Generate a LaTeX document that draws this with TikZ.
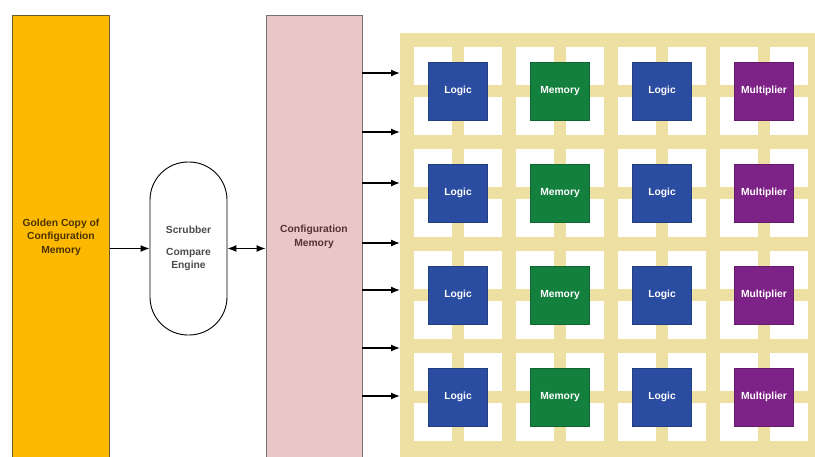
\documentclass[tikz,border=0pt]{standalone}
\usepackage{fontspec}
\setmainfont{Liberation Sans}
\usetikzlibrary{arrows.meta}
\definecolor{gold}{HTML}{FDB900}
\definecolor{goldline}{HTML}{6B5A2E}
\definecolor{goldtext}{HTML}{4A3300}
\definecolor{cfgpink}{HTML}{E9C7C7}
\definecolor{cfgline}{HTML}{7A7070}
\definecolor{cfgtext}{HTML}{553333}
\definecolor{tanc}{HTML}{EEDFA3}
\definecolor{logicblue}{HTML}{2B4DA1}
\definecolor{memgreen}{HTML}{13803D}
\definecolor{mulpurple}{HTML}{7D2286}
\begin{document}
\begin{tikzpicture}[x=1pt,y=-1pt,
  lbl/.style={font=\fontsize{10.3}{13.5}\selectfont\bfseries, align=center},
  tallbox/.style={minimum width=97pt, minimum height=444pt, inner sep=0pt, line width=0.8pt},
  blk/.style={minimum width=59pt, minimum height=58pt, inner sep=0pt, text=white,
    font=\fontsize{10.3}{12}\selectfont\bfseries},
  arr/.style={line width=1.3pt, -{Latex[length=9pt,width=7pt]}},
  darr/.style={line width=1.3pt, {Latex[length=9pt,width=7pt]}-{Latex[length=9pt,width=7pt]}}
]
\useasboundingbox (0,0) rectangle (815,456);
\clip (0,0) rectangle (815,456);
\fill[white] (0,0) rectangle (815,456);

% golden copy
\node[tallbox, lbl, draw=goldline, fill=gold, text=goldtext] (golden) at (61,237)
  {Golden Copy of\\Configuration\\Memory};

% scrubber
\node[draw, line width=0.9pt, rounded corners=38pt, minimum width=77pt, minimum height=173pt,
  inner sep=0pt, lbl, text=black!70] (scrub) at (188.5,248.5)
  {Scrubber\\[8pt]Compare\\Engine};

% configuration memory
\node[tallbox, lbl, draw=cfgline, fill=cfgpink, text=cfgtext, minimum width=96pt] (config) at (314,237)
  {Configuration\\Memory};

% FPGA fabric
\node[fill=tanc, anchor=north west, minimum width=430pt, minimum height=440pt, inner sep=0pt] (grid) at (400,33) {};
\foreach \i in {0,1,2,3} {
  \foreach \j in {0,1,2,3} {
    \fill[white] (458+102*\i-44, 91+102*\j-44) rectangle ++(88,88);
    \fill[tanc] (458+102*\i-6, 91+102*\j-44) rectangle ++(12,88);
    \fill[tanc] (458+102*\i-44, 91+102*\j-6) rectangle ++(88,12);
  }
}
\foreach \i/\txt/\col in {0/Logic/logicblue, 1/Memory/memgreen, 2/Logic/logicblue, 3/Multiplier/mulpurple} {
  \foreach \j in {0,1,2,3} {
    \node[blk, fill=\col, draw=\col!80!black, line width=0.5pt] (b\i\j) at (458+102*\i, 91+102*\j) {\txt};
  }
}

% connectors
\draw[arr] (golden.east |- scrub.west) -- (scrub.west);
\draw[darr] (scrub.east) -- (scrub.east -| config.west);
\foreach \y [count=\k] in {73,132,183,243,290,348,396} {
  \coordinate (ay\k) at (0,\y);
  \draw[arr] (config.east |- ay\k) -- (grid.west |- ay\k);
}
\end{tikzpicture}
\end{document}
